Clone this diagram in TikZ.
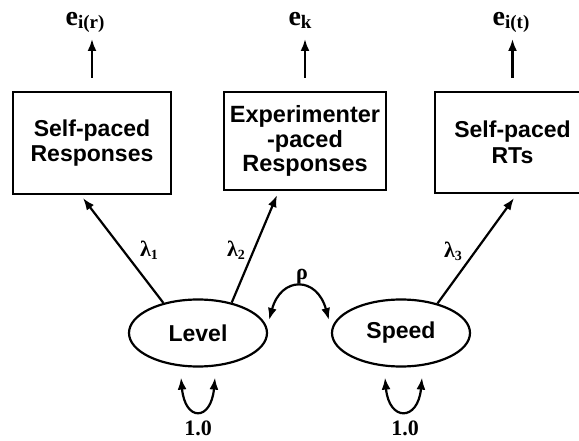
\documentclass[tikz,border=0pt]{standalone}
\usepackage{fontspec}
\setmainfont{Liberation Serif}
\setsansfont{Liberation Sans}
\usetikzlibrary{arrows.meta,shapes.geometric,calc}
\newcommand\mysub[2]{\raisebox{-3pt}{\fontsize{#1}{#1}\selectfont #2}}
\begin{document}
\begin{tikzpicture}[x=1pt,y=1pt,
  arr/.style={-{Latex[length=12pt,width=9pt]},line width=2.2pt},
  darr/.style={{Latex[length=12pt,width=9pt]}-{Latex[length=12pt,width=9pt]},line width=2.2pt},
  obs/.style={draw,line width=2.2pt,rectangle,inner sep=0pt,align=center,
    font=\sffamily\bfseries\fontsize{23}{25.5}\selectfont},
  lat/.style={draw,line width=2.2pt,ellipse,inner sep=0pt,minimum width=138pt,minimum height=67pt,
    font=\sffamily\bfseries\fontsize{23}{25}\selectfont},
  lbl/.style={inner sep=0pt,font=\bfseries\fontsize{22}{22}\selectfont},
  elbl/.style={inner sep=0pt,anchor=base,font=\bfseries\fontsize{28}{28}\selectfont}
]
\clip (0,0) rectangle (579,440);
% observed boxes
\node[obs,minimum width=158pt,minimum height=102pt] (b1) at (92,297) {Self-paced\\Responses};
\node[obs,minimum width=162pt,minimum height=98pt,font=\sffamily\bfseries\fontsize{23.5}{24.5}\selectfont] (b2) at (305,299) {Experimenter\\-paced\\Responses};
\node[obs,minimum width=155pt,minimum height=101pt] (b3) at (512.5,297.5) {Self-paced\\RTs};
% error labels
\node[elbl] (er) at (85,414) {e\mysub{19}{i(r)}};
\node[elbl] (ek) at (300,414) {e\mysub{19}{k}};
\node[elbl] (et) at (511,414) {e\mysub{19}{i(t)}};
\draw[arr,shorten <=13pt,shorten >=13pt] (b1.north) -- (b1.north |- er.base);
\draw[arr,shorten <=13pt,shorten >=13pt] (b2.north) -- (b2.north |- ek.base);
\draw[arr,shorten <=13pt,shorten >=13pt] (b3.north) -- (b3.north |- et.base);
% latent factors
\node[lat] (lev) at (198,107) {Level};
\node[lat] (spd) at (401,107) {Speed};
% loadings
\draw[arr] (lev.139) -- ($(b1.south)+(-9,-3)$);
\draw[arr] (lev.42) -- ($(b2.south)+(-28,-4)$);
\draw[arr] (spd.39) -- ($(b3.south)+(1.5,-4)$);
\node[lbl] (l1) at (149,190) {λ\mysub{14}{1}};
\node[lbl] (l2) at (236,190) {λ\mysub{14}{2}};
\node[lbl] (l3) at (453,189) {λ\mysub{14}{3}};
% correlation
\draw[darr] ($(lev.east)+(1,13)$) .. controls +(12,44) and +(-12,44) .. ($(spd.west)+(-2,13)$);
\node[lbl] (rho) at (302,163) {ρ};
% variances
\draw[darr] ($(lev.south)+(-17,-10)$) .. controls +(4,-44) and +(-4,-44) .. ($(lev.south)+(17,-10)$);
\draw[darr] ($(spd.south)+(-16,-10)$) .. controls +(4,-44) and +(-4,-44) .. ($(spd.south)+(21,-10)$);
\node[lbl] (v1) at (198,12) {1.0};
\node[lbl] (v2) at (405,12) {1.0};
\end{tikzpicture}
\end{document}
